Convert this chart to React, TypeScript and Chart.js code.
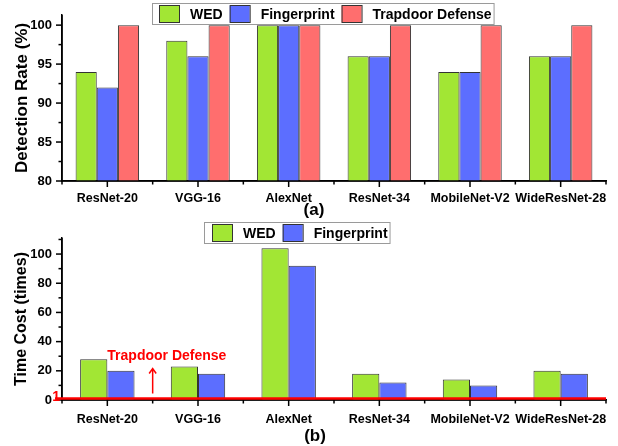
import React, { useEffect, useRef } from 'react';
import { Chart, registerables } from 'chart.js';

Chart.register(...registerables);

const categories = ['ResNet-20', 'VGG-16', 'AlexNet', 'ResNet-34', 'MobileNet-V2', 'WideResNet-28'];
const seriesNames = ['WED', 'Fingerprint', 'Trapdoor Defense'];
const detectionWED = [94, 98, 100, 96, 94, 96];
const detectionFingerprint = [92, 96, 100, 96, 94, 96];
const detectionTrapdoor = [100, 100, 100, 100, 100, 100];
const timeWED = [28, 23, 104, 18, 14, 20];
const timeFingerprint = [20, 18, 92, 12, 10, 18];
const trapdoorTime = 1;
const detectionTicks = [80, 85, 90, 95, 100];
const detectionMinorTicks = [82.5, 87.5, 92.5, 97.5];
const timeTicks = [0, 20, 40, 60, 80, 100];
const timeMinorTicks = [10, 30, 50, 70, 90, 110];

const GREEN = 'rgb(162,230,52)';
const BLUE = 'rgb(92,110,255)';
const RED = 'rgb(255,110,110)';
const FONT = "'Liberation Sans', Arial, sans-serif";

const decorPlugin = {
  id: 'decor',
  afterDraw(chart: any, _args: any, opts: any) {
    const ctx = chart.ctx as CanvasRenderingContext2D;
    const xs = chart.scales.x;
    const ys = chart.scales.y;
    const area = chart.chartArea;
    ctx.save();
    ctx.fillStyle = '#000';
    // axis lines over bars
    ctx.fillRect(area.left - 0.75, area.top, 1.5, area.bottom - area.top + 0.75);
    ctx.fillRect(area.left - 0.75, area.bottom - 0.75, area.right - area.left + 0.75, 1.5);
    // x ticks
    const n = chart.data.labels.length;
    for (let i = 0; i <= n; i++) {
      const px = xs.getPixelForValue(i - 0.5);
      ctx.fillRect(px - 0.75, area.bottom, 1.5, 3.5);
      if (i < n) {
        const pm = xs.getPixelForValue(i);
        ctx.fillRect(pm - 0.75, area.bottom, 1.5, 6);
      }
    }
    // y ticks
    for (const v of opts.minorY || []) {
      const py = ys.getPixelForValue(v);
      ctx.fillRect(area.left - 3.5, py - 0.75, 3.5, 1.5);
    }
    for (const t of ys.ticks) {
      const py = ys.getPixelForValue(t.value);
      ctx.fillRect(area.left - 6, py - 0.75, 6, 1.5);
    }

    // trapdoor annotation
    if (opts.trapdoor) {
      const py = ys.getPixelForValue(trapdoorTime);
      ctx.strokeStyle = '#FF0000';
      ctx.lineWidth = 2.5;
      ctx.beginPath();
      ctx.moveTo(55, py);
      ctx.lineTo(xs.right, py);
      ctx.stroke();
      ctx.fillStyle = '#FF0000';
      ctx.font = `bold 14px ${FONT}`;
      ctx.textAlign = 'right';
      ctx.textBaseline = 'alphabetic';
      ctx.fillText(String(trapdoorTime), 60, py + 2);
      // arrow
      const ax = xs.getPixelForValue(0.5);
      const y0 = py - 5;
      const y1 = py - 30;
      ctx.lineWidth = 1.5;
      ctx.beginPath();
      ctx.moveTo(ax, y0);
      ctx.lineTo(ax, y1);
      ctx.moveTo(ax - 3.5, y1 + 5);
      ctx.lineTo(ax, y1);
      ctx.lineTo(ax + 3.5, y1 + 5);
      ctx.stroke();
      ctx.textAlign = 'left';
      ctx.textBaseline = 'middle';
      ctx.fillText(seriesNames[2], xs.getPixelForValue(0), y1 - 12);
    }

    // legend
    const lg = opts.legend;
    ctx.font = `bold 14px ${FONT}`;
    const items = chart.data.datasets.map((d: any) => ({ label: d.label, color: d.backgroundColor }));
    let cx = lg.x + lg.pad;
    const parts: any[] = [];
    items.forEach((it: any, i: number) => {
      const w = ctx.measureText(it.label).width;
      parts.push({ ...it, bx: cx, tx: cx + 20 + 11, w });
      cx += 20 + 11 + w + (i < items.length - 1 ? 7 : 2);
    });
    ctx.fillStyle = '#fff';
    ctx.fillRect(lg.x, lg.y, cx - lg.x, lg.h);
    ctx.strokeStyle = '#9a9a9a';
    ctx.lineWidth = 1;
    ctx.strokeRect(lg.x + 0.5, lg.y + 0.5, cx - lg.x, lg.h);
    parts.forEach((p) => {
      ctx.fillStyle = p.color;
      ctx.fillRect(p.bx, lg.y + 2.5, 20, lg.h - 4);
      ctx.strokeStyle = '#333';
      ctx.strokeRect(p.bx + 0.5, lg.y + 2.5, 20, lg.h - 4);
      ctx.fillStyle = '#000';
      ctx.textAlign = 'left';
      ctx.textBaseline = 'middle';
      ctx.fillText(p.label, p.tx, lg.y + lg.h / 2 + 1.5);
    });

    // panel label
    ctx.fillStyle = '#000';
    ctx.font = `bold 17px ${FONT}`;
    ctx.textAlign = 'center';
    ctx.textBaseline = 'middle';
    ctx.fillText(opts.panel.text, opts.panel.x, opts.panel.y);
    ctx.restore();
  },
};

function makeConfig(opts: {
  datasets: any[];
  catPct: number;
  min: number;
  max: number;
  ticks: number[];
  title: string;
  titleSize: number;
  xHeight: number;
  xPad: number;
  top: number;
  decor: any;
}) {
  return {
    type: 'bar' as const,
    data: { labels: categories, datasets: opts.datasets },
    plugins: [decorPlugin],
    options: {
      responsive: false,
      animation: false as const,
      devicePixelRatio: 1,
      layout: { padding: { top: opts.top, right: 12, left: 0, bottom: 0 } },
      datasets: {
        bar: {
          categoryPercentage: opts.catPct,
          barPercentage: 1,
          borderWidth: 1,
          borderColor: '#333',
        },
      },
      plugins: {
        legend: { display: false },
        tooltip: { enabled: false },
        title: { display: false },
        decor: opts.decor,
      },
      scales: {
        x: {
          type: 'category' as const,
          offset: true,
          grid: { display: false, drawTicks: true, tickLength: 6 },
          border: { display: true, color: '#000', width: 1.5 },
          ticks: { color: '#000', font: { family: FONT, size: 12.5, weight: 'bold' as const }, padding: opts.xPad, maxRotation: 0, autoSkip: false },
          afterFit: (s: any) => { s.height = opts.xHeight; },
        },
        y: {
          min: opts.min,
          max: opts.max,
          afterBuildTicks: (s: any) => { s.ticks = opts.ticks.map((v) => ({ value: v })); },
          grid: { display: false, drawTicks: true, tickLength: 6 },
          border: { display: true, color: '#000', width: 1.5 },
          ticks: { color: '#000', font: { family: FONT, size: 13, weight: 'bold' as const }, padding: 4 },
          title: {
            display: true,
            text: opts.title,
            color: '#000',
            font: { family: FONT, size: opts.titleSize, weight: 'bold' as const },
            padding: { top: 12, bottom: 0 },
          },
          afterFit: (s: any) => { s.width = 62; },
        },
      },
    },
  };
}

export default function App() {
  const topRef = useRef<HTMLCanvasElement>(null);
  const botRef = useRef<HTMLCanvasElement>(null);

  useEffect(() => {
    const top = new Chart(topRef.current!, makeConfig({
      datasets: [
        { label: seriesNames[0], data: detectionWED, backgroundColor: GREEN },
        { label: seriesNames[1], data: detectionFingerprint, backgroundColor: BLUE },
        { label: seriesNames[2], data: detectionTrapdoor, backgroundColor: RED },
      ],
      catPct: 0.7,
      min: 80,
      max: 101.3,
      ticks: detectionTicks,
      title: 'Detection Rate (%)',
      titleSize: 17,
      xHeight: 39,
      xPad: 4,
      top: 15,
      decor: {
        minorY: detectionMinorTicks,
        legend: { x: 152, y: 3, h: 21, pad: 7 },
        panel: { text: '(a)', x: 314, y: 210 },
      },
    }) as any);
    const bot = new Chart(botRef.current!, makeConfig({
      datasets: [
        { label: seriesNames[0], data: timeWED, backgroundColor: GREEN },
        { label: seriesNames[1], data: timeFingerprint, backgroundColor: BLUE },
      ],
      catPct: 0.6,
      min: 0,
      max: 111,
      ticks: timeTicks,
      title: 'Time Cost (times)',
      titleSize: 16,
      xHeight: 46,
      xPad: 6,
      top: 18,
      decor: {
        minorY: timeMinorTicks,
        trapdoor: true,
        legend: { x: 204, y: 2, h: 21, pad: 8 },
        panel: { text: '(b)', x: 315, y: 216 },
      },
    }) as any);
    return () => { top.destroy(); bot.destroy(); };
  }, []);

  return (
    <div style={{ position: 'absolute', left: 0, top: 0, width: 618, height: 446, background: '#fff' }}>
      <canvas ref={topRef} width={618} height={220} style={{ position: 'absolute', left: 0, top: 0, display: 'block' }} />
      <canvas ref={botRef} width={618} height={226} style={{ position: 'absolute', left: 0, top: 220, display: 'block' }} />
    </div>
  );
}
